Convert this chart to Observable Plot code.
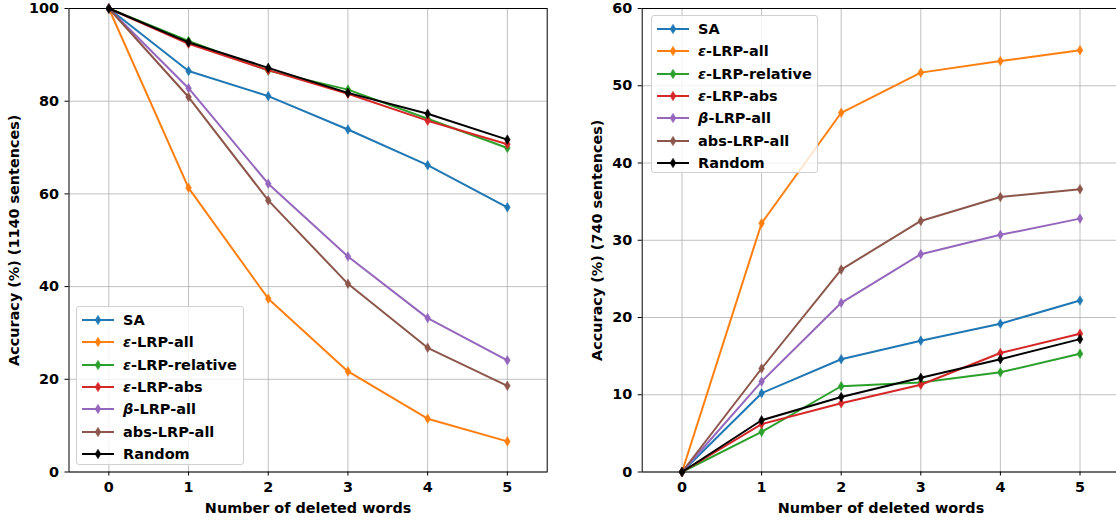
<!DOCTYPE html>
<html>
<head>
<meta charset="utf-8">
<script src="https://cdn.jsdelivr.net/npm/d3@7"></script>
<script src="https://cdn.jsdelivr.net/npm/@observablehq/plot@0.6"></script>
<style>
  html, body { margin:0; padding:0; background:#fff; }
  #wrap { position:relative; width:1116px; height:518px; overflow:hidden; background:#fff;
          font-family:"DejaVu Sans", sans-serif; font-weight:bold; }
  .chart { position:absolute; top:0; }
  .legend { position:absolute; background:rgba(255,255,255,0.8); border:1px solid #d0d0d0;
            border-radius:3px; box-sizing:border-box; font-size:14.5px; font-weight:bold;
            font-family:"DejaVu Sans", sans-serif; color:#000; }
  .legend .row { position:absolute; left:0; height:22px; line-height:22px; white-space:nowrap; }
  .legend svg { position:absolute; left:4px; top:0; }
  .legend span { position:absolute; left:46px; top:0; }
</style>
</head>
<body>
<div id="wrap"></div>
<script>
// ---- data ----
const steps = [0, 1, 2, 3, 4, 5];
const methods = ["SA", "ε-LRP-all", "ε-LRP-relative", "ε-LRP-abs", "β-LRP-all", "abs-LRP-all", "Random"];
const colors = ["#1f77b4", "#ff7f0e", "#2ca02c", "#d62728", "#9467bd", "#8c564b", "#000000"];

// Left: 1140 sentences
const left_SA        = [100, 86.5, 81.1, 73.9, 66.2, 57.1];
const left_epsAll    = [100, 61.3, 37.4, 21.7, 11.5, 6.6];
const left_epsRel    = [100, 93.0, 86.6, 82.5, 76.2, 69.9];
const left_epsAbs    = [100, 92.4, 86.7, 81.6, 75.8, 70.7];
const left_betaAll   = [100, 82.8, 62.2, 46.5, 33.2, 24.1];
const left_absAll    = [100, 80.9, 58.6, 40.6, 26.8, 18.6];
const left_random    = [100, 92.7, 87.2, 81.8, 77.3, 71.7];

// Right: 740 sentences
const right_SA       = [0, 10.2, 14.6, 17.0, 19.2, 22.2];
const right_epsAll   = [0, 32.2, 46.5, 51.7, 53.2, 54.6];
const right_epsRel   = [0, 5.2, 11.1, 11.6, 12.9, 15.3];
const right_epsAbs   = [0, 6.2, 8.9, 11.3, 15.4, 17.9];
const right_betaAll  = [0, 11.7, 21.9, 28.2, 30.7, 32.8];
const right_absAll   = [0, 13.4, 26.2, 32.5, 35.6, 36.6];
const right_random   = [0, 6.7, 9.7, 12.2, 14.6, 17.2];

const leftTicksY  = [0, 20, 40, 60, 80, 100];
const rightTicksY = [0, 10, 20, 30, 40, 50, 60];

const leftSeries  = [left_SA, left_epsAll, left_epsRel, left_epsAbs, left_betaAll, left_absAll, left_random];
const rightSeries = [right_SA, right_epsAll, right_epsRel, right_epsAbs, right_betaAll, right_absAll, right_random];

// thin diamond (matplotlib 'd')
const thinDiamond = {
  draw(ctx, size) {
    const r = Math.sqrt(size / Math.PI);
    const w = r * 0.6;
    ctx.moveTo(0, -r); ctx.lineTo(w, 0); ctx.lineTo(0, r); ctx.lineTo(-w, 0); ctx.closePath();
  }
};

function makeChart(series, yDomain, yTicks, yLabel, opts) {
  const rows = methods.flatMap((m, i) => steps.map((s, j) => ({method: m, step: s, value: series[i][j]})));
  const seriesMarks = methods.flatMap((m, i) => [
    Plot.line(rows.filter(d => d.method === m), {x: "step", y: "value", stroke: colors[i], strokeWidth: 2}),
    Plot.dot(rows.filter(d => d.method === m), {x: "step", y: "value", symbol: thinDiamond, r: 4.8, fill: colors[i], stroke: colors[i], strokeWidth: 0.5})
  ]);
  return Plot.plot({
    width: opts.width, height: 518,
    marginLeft: opts.marginLeft, marginRight: opts.marginRight, marginTop: 8, marginBottom: 46.5,
    x: {domain: [-0.5, 5.5]},
    y: {domain: yDomain},
    style: {fontFamily: "DejaVu Sans", fontSize: "14.4px", fontWeight: "bold", color: "#000", background: "transparent", overflow: "visible"},
    marks: [
      Plot.gridX(steps, {stroke: "#b0b0b0", strokeOpacity: 1, strokeWidth: 0.8}),
      Plot.gridY(yTicks, {stroke: "#b0b0b0", strokeOpacity: 1, strokeWidth: 0.8}),
      Plot.axisX(steps, {tickSize: 4, tickPadding: 6, tickFormat: d => String(d), fontSize: 14.4, fontWeight: "bold",
        label: "Number of deleted words", labelAnchor: "center", labelArrow: "none", labelOffset: 41}),
      Plot.axisY(yTicks, {tickSize: 4, tickPadding: 6, tickFormat: d => String(d), fontSize: 14.4, fontWeight: "bold",
        label: yLabel, labelAnchor: "center", labelArrow: "none", labelOffset: opts.labelOffset}),
      ...seriesMarks,
      Plot.frame({stroke: "#000", strokeWidth: 1})
    ]
  });
}

function makeLegend(left, top, width, height) {
  const div = document.createElement("div");
  div.className = "legend";
  Object.assign(div.style, {left: left + "px", top: top + "px", width: width + "px", height: height + "px"});
  methods.forEach((m, i) => {
    const row = document.createElement("div");
    row.className = "row";
    row.style.top = (2 + i * 22.3) + "px";
    row.style.width = width + "px";
    const c = colors[i];
    row.innerHTML =
      `<svg width="34" height="22"><line x1="1" y1="11" x2="33" y2="11" stroke="${c}" stroke-width="2"/>` +
      `<path d="M17,6.2L19.9,11L17,15.8L14.1,11Z" fill="${c}" stroke="${c}" stroke-width="0.5"/></svg>` +
      `<span>${m.replace(/^([εβ])/, "<i>$1</i>")}</span>`;
    div.appendChild(row);
  });
  return div;
}

const wrap = document.getElementById("wrap");

const leftChart = makeChart(leftSeries, [0, 100], leftTicksY, "Accuracy (%) (1140 sentences)",
  {width: 560, marginLeft: 68.5, marginRight: 13.3, labelOffset: 60});
leftChart.classList.add("chart");
leftChart.style.left = "0px";
wrap.appendChild(leftChart);

const rightChart = makeChart(rightSeries, [0, 60], rightTicksY, "Accuracy (%) (740 sentences)",
  {width: 560, marginLeft: 81.7, marginRight: 0.7, labelOffset: 50});
rightChart.classList.add("chart");
rightChart.style.left = "560px";
wrap.appendChild(rightChart);

wrap.appendChild(makeLegend(76, 306, 168, 159));
wrap.appendChild(makeLegend(651, 15, 167, 158));
</script>
</body>
</html>
